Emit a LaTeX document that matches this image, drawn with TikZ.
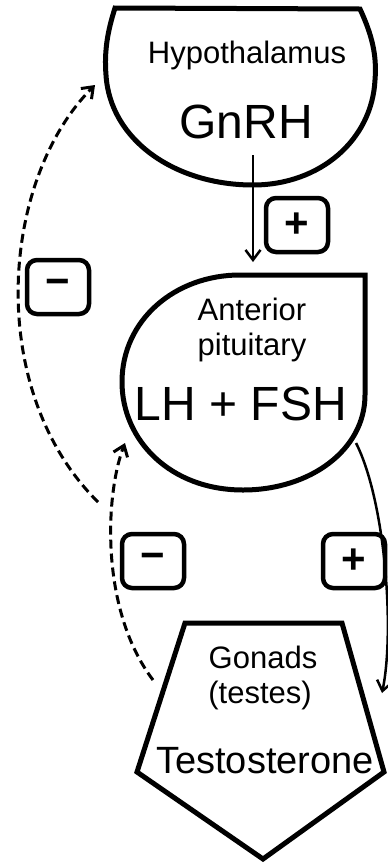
\documentclass[tikz,border=0pt]{standalone}
\usepackage{fontspec}
\setmainfont{Liberation Sans}
\usetikzlibrary{arrows.meta}
\tikzstyle{organ}=[draw=black,line width=5pt,line join=miter]
\tikzstyle{hormone}=[inner sep=0pt,anchor=base]
\tikzstyle{signbox}=[draw=black,line width=4.5pt,rounded corners=10pt,minimum width=62pt,minimum height=54pt,inner sep=0pt,font=\fontsize{42}{42}\selectfont\bfseries]
\tikzstyle{stim}=[line width=2.5pt,-{Straight Barb[length=10pt,width=15pt]}]
\tikzstyle{inhib}=[stim,line width=3pt,dash pattern=on 9pt off 5pt]

\begin{document}
\begin{tikzpicture}[x=1pt,y=1pt]
	\useasboundingbox (0,0) rectangle (388,-863);
	\draw[organ] (115,-8) -- (360,-9)
	.. controls (372,-35) and (377,-55) .. (375,-80)
	.. controls (372,-140) and (320,-185) .. (253,-185)
	.. controls (175,-185) and (110,-140) .. (106,-75)
	.. controls (104,-50) and (108,-30) .. (115,-8) -- cycle;
	\draw[organ] (240,-275) -- (365,-275) -- (365,-395)
	.. controls (365,-450) and (310,-490) .. (243,-490)
	.. controls (170,-490) and (122,-440) .. (122,-382)
	.. controls (122,-320) and (175,-275) .. (240,-275) -- cycle;
	\draw[organ] (185,-623) -- (342,-623) -- (384,-772) -- (263,-859) -- (137,-772) -- cycle;

	\node (hypo) [hormone,font=\fontsize{31}{36}\selectfont] at (247,-63) {Hypothalamus};
	\node (gnrh) [hormone,font=\fontsize{48}{56}\selectfont] at (246,-138) {GnRH};
	\node (ant) [hormone,font=\fontsize{31}{36}\selectfont] at (252,-320) {Anterior};
	\node (pit) [hormone,font=\fontsize{31}{36}\selectfont] at (252,-355) {pituitary};
	\node (lhfsh) [hormone,font=\fontsize{48}{56}\selectfont] at (241,-420) {LH + FSH};
	\node (gon) [hormone,font=\fontsize{31}{36}\selectfont] at (263,-668) {Gonads};
	\node (test) [hormone,font=\fontsize{31}{36}\selectfont] at (260,-703) {(testes)};
	\node (testo) [hormone,font=\fontsize{38}{44}\selectfont] at (265,-773) {Testosterone};

	\node (plustop) [signbox] at (297,-225) {+};
	\node (minusleft) [signbox] at (58,-287) {−};
	\node (minuslow) [signbox] at (153,-561) {−};
	\node (pluslow) [signbox] at (354,-561) {+};

	\coordinate (gnrhout) at (253,-155);
	\coordinate (pittop) at (253,-262);
	\coordinate (pitout) at (356,-443);
	\coordinate (gonright) at (382,-693);
	\coordinate (gonleft) at (153,-680);
	\coordinate (pitleft) at (125,-443);
	\coordinate (fbstart) at (98,-502);
	\coordinate (hypleft) at (95,-85);

	\draw[stim] (gnrhout) -- (pittop);
	\draw[stim] (pitout) .. controls (385,-500) and (395,-630) .. (gonright);
	\draw[inhib] (gonleft) .. controls (100,-610) and (105,-495) .. (pitleft);
	\draw[inhib] (fbstart) .. controls (-15,-390) and (0,-180) .. (hypleft);
\end{tikzpicture}
\end{document}
